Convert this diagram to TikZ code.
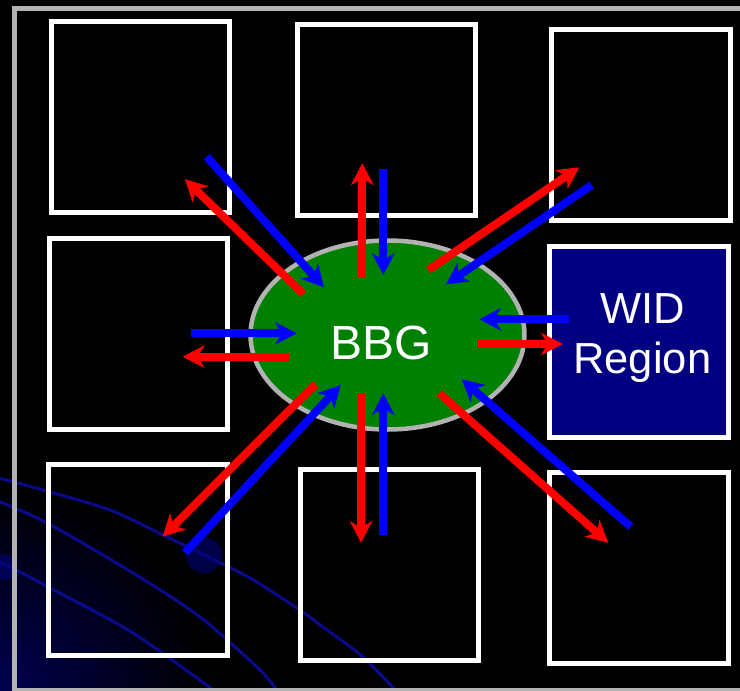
\documentclass[tikz,border=0pt]{standalone}
\usepackage{fontspec}
\setmainfont{Liberation Sans}
\usetikzlibrary{arrows.meta,shapes.geometric}
\definecolor{framegray}{RGB}{178,178,178}
\definecolor{bbggreen}{RGB}{0,128,0}
\definecolor{widnavy}{RGB}{0,0,128}
\definecolor{swirlblue}{RGB}{10,10,140}
\definecolor{glowblue}{RGB}{0,0,80}
\definecolor{flowred}{RGB}{255,0,0}
\definecolor{flowblue}{RGB}{0,0,255}
\begin{document}
\begin{tikzpicture}[x=1pt,y=-1pt,
  region/.style={rectangle,draw=white,line width=5pt,inner sep=0pt,
    minimum width=178.5pt,minimum height=191pt},
  flowtip/.style={-{Stealth[length=22pt,width=23pt,inset=7pt,line width=0pt]}},
  outflow/.style={flowtip,draw=flowred,line width=8pt},
  inflow/.style={flowtip,draw=flowblue,line width=8pt},
  swirl/.style={draw=swirlblue,line width=3pt}]

% canvas
\fill[black] (0,0) rectangle (740,691);
\useasboundingbox (0,0) rectangle (740,691);
\clip (0,0) rectangle (740,691);

% background glow and swirl in the lower-left corner
\shade[inner color=glowblue,outer color=black] (0,691) circle[radius=205pt];
\draw[swirl] plot[smooth] coordinates {(-5,477) (43,490) (110,510) (163,535) (200,553) (250,578) (300,610) (323,627) (363,657) (400,695)};
\draw[swirl] plot[smooth] coordinates {(-5,500) (47,523) (133,573) (200,617) (260,670) (280,695)};
\draw[swirl] plot[smooth] coordinates {(-5,560) (20,572) (50,588) (133,633) (220,695)};
\fill[widnavy,opacity=0.55] (204,555) circle[radius=18pt];
\fill[widnavy,opacity=0.55] (4,567) circle[radius=13pt];

% outer frame
\draw[framegray,line width=5pt] (14.7,8.5) rectangle (760,690);

% surrounding regions
\node[region] (tl) at (140.25,116.5) {};
\node[region] (tm) at (386.25,120) {};
\node[region] (tr) at (640.85,124.75) {};
\node[region] (ml) at (138.25,333.75) {};
\node[region,fill=widnavy] (wid) at (638.75,342.35) {};
\node[region] (bl) at (138,559.65) {};
\node[region] (bm) at (389.35,564.9) {};
\node[region] (br) at (638.75,567.85) {};
\node[text=white,font=\fontsize{43.5}{50}\selectfont,align=center] (widlabel) at (642.3,338) {WID\\Region};

% central BBG
\node[ellipse,draw=framegray,line width=4.5pt,fill=bbggreen,inner sep=0pt,
  minimum width=274pt,minimum height=189pt] (bbg) at (387.5,335) {};
\node[text=white,font=\fontsize{48}{56}\selectfont,anchor=base] (bbglabel) at (381.4,359.3) {BBG};

% flow end points
\coordinate (nOut0) at (362.3,276.7);  \coordinate (nOut1) at (362.3,163.3);
\coordinate (nIn0)  at (383.3,169);    \coordinate (nIn1)  at (383.3,275);
\coordinate (sOut0) at (361,393.3);    \coordinate (sOut1) at (361,542.7);
\coordinate (sIn0)  at (383.3,535);    \coordinate (sIn1)  at (383.3,393.3);
\coordinate (wIn0)  at (191,333.3);    \coordinate (wIn1)  at (296.7,333.3);
\coordinate (wOut0) at (289.3,356.7);  \coordinate (wOut1) at (182.7,356.7);
\coordinate (eIn0)  at (569.3,319.3);  \coordinate (eIn1)  at (479.3,319.3);
\coordinate (eOut0) at (477.3,344);    \coordinate (eOut1) at (562.7,344);
\coordinate (nwIn0)  at (206.7,156.7); \coordinate (nwIn1)  at (324,287.3);
\coordinate (nwOut0) at (303.3,294);   \coordinate (nwOut1) at (185,179.3);
\coordinate (neOut0) at (428.3,270);   \coordinate (neOut1) at (579.3,167.3);
\coordinate (neIn0)  at (591.7,185);   \coordinate (neIn1)  at (446,284.3);
\coordinate (swOut0) at (315.7,384);   \coordinate (swOut1) at (162.7,536.7);
\coordinate (swIn0)  at (185,552.7);   \coordinate (swIn1)  at (340.7,385);
\coordinate (seOut0) at (439.3,393.3); \coordinate (seOut1) at (608.3,542.7);
\coordinate (seIn0)  at (630.7,526.7); \coordinate (seIn1)  at (461.7,379.3);

% flows out of BBG (red) and into BBG (blue)
\foreach \d in {n,s,w,e,nw,ne,sw,se}{
  \draw[outflow] (\d Out0) -- (\d Out1);
  \draw[inflow] (\d In0) -- (\d In1);
}
\end{tikzpicture}
\end{document}
